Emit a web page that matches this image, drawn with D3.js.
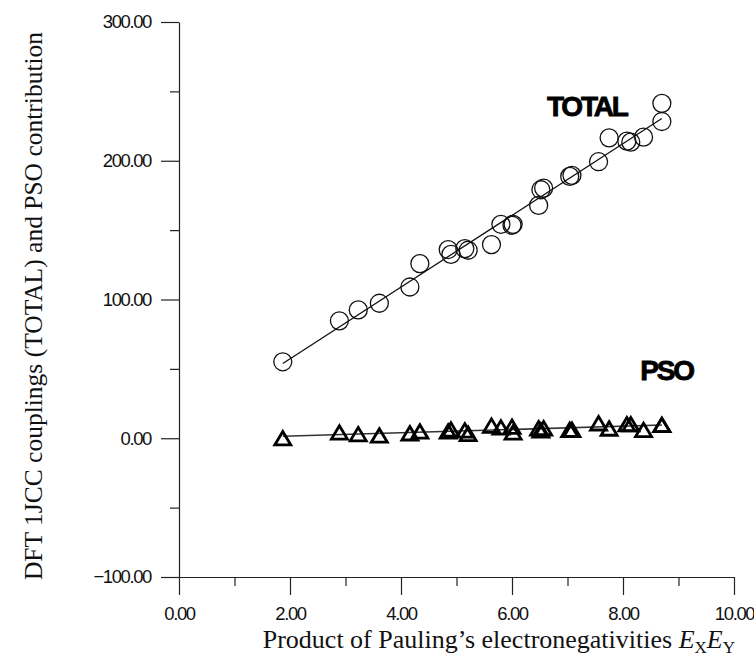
<!DOCTYPE html>
<html>
<head>
<meta charset="utf-8">
<script src="https://cdn.jsdelivr.net/npm/d3@7"></script>
<style>
  body { margin: 0; background: #fff; }
  .tick text { font-family: "Liberation Sans", Arial, sans-serif; font-size: 18.5px; letter-spacing: -1.4px; fill: #111; }
  .title { font-family: "Liberation Serif", "Times New Roman", serif; fill: #111; }
  .tag { font-family: "Liberation Sans", Arial, sans-serif; font-weight: bold; font-size: 28px; letter-spacing: -2.2px; fill: #000; stroke: #000; stroke-width: 0.8px; }
</style>
</head>
<body>
<script>
// product of electronegativities (shared by both series)
var exey = [1.87, 2.89, 3.23, 3.61, 4.16, 4.34, 4.85, 4.90, 5.15, 5.21, 5.63, 5.80, 6.00,
            6.02, 6.48, 6.52, 6.57, 7.04, 7.08, 7.56, 7.75, 8.07, 8.14, 8.37, 8.70, 8.70];
var total = [55.1, 84.6, 92.5, 97.3, 109.0, 125.9, 136.0, 132.5, 136.7, 135.5, 139.6, 154.2, 153.5,
             154.2, 167.8, 179.1, 180.3, 188.7, 189.5, 199.3, 216.5, 214.1, 213.4, 217.0, 241.4, 228.3];
var pso = [0.0, 4.2, 3.0, 2.0, 3.6, 4.9, 4.9, 6.3, 5.6, 3.2, 9.1, 7.8, 8.3,
           4.2, 7.2, 5.7, 7.2, 6.1, 6.1, 10.8, 7.0, 10.1, 10.1, 6.0, 9.6, 9.6];

var xTicks = [0, 2, 4, 6, 8, 10];
var xMinor = [1, 3, 5, 7, 9];
var yTicks = [-100, 0, 100, 200, 300];
var yMinor = [-50, 50, 150, 250];

// series tags, placed in data units
var tags = [
  { text: "TOTAL", x: 6.63, y: 232 },
  { text: "PSO", x: 8.31, y: 42 }
];

var width = 754, height = 668;

var x = d3.scaleLinear().domain([0, 10]).range([179, 734]);
var y = d3.scaleLinear().domain([-100, 300]).range([577, 22]);

var svg = d3.select("body").append("svg")
  .attr("width", width)
  .attr("height", height);

var fmt = d3.format(".2f");

// axes
var gx = svg.append("g").attr("transform", "translate(0," + y(-100) + ")");
gx.call(d3.axisBottom(x).tickValues(xTicks).tickSize(18).tickSizeOuter(0).tickPadding(12).tickFormat(fmt));
gx.append("g").call(d3.axisBottom(x).tickValues(xMinor).tickSize(9).tickFormat(""))
  .select(".domain").remove();

var gy = svg.append("g").attr("transform", "translate(" + x(0) + ",0)");
gy.call(d3.axisLeft(y).tickValues(yTicks).tickSize(18).tickSizeOuter(0).tickPadding(10).tickFormat(fmt));
gy.append("g").call(d3.axisLeft(y).tickValues(yMinor).tickSize(9).tickFormat(""))
  .select(".domain").remove();

svg.selectAll(".domain, .tick line").attr("stroke", "#222").attr("stroke-width", 1.2);

// least squares line through a series
function fit(xs, ys) {
  var mx = d3.mean(xs), my = d3.mean(ys);
  var sxy = d3.sum(xs, function (v, i) { return (v - mx) * (ys[i] - my); });
  var sxx = d3.sum(xs, function (v) { return (v - mx) * (v - mx); });
  var b = sxy / sxx, a = my - b * mx;
  var ext = d3.extent(xs);
  return ext.map(function (v) { return [v, a + b * v]; });
}

var line = d3.line()
  .x(function (d) { return x(d[0]); })
  .y(function (d) { return y(d[1]); });

svg.append("path").datum(fit(exey, total))
  .attr("d", line).attr("fill", "none").attr("stroke", "#111").attr("stroke-width", 1.3);
svg.append("path").datum(fit(exey, pso))
  .attr("d", line).attr("fill", "none").attr("stroke", "#333").attr("stroke-width", 1.6);

// TOTAL: open circles
svg.selectAll(".tot").data(exey).enter().append("circle")
  .attr("class", "tot")
  .attr("cx", function (d) { return x(d); })
  .attr("cy", function (d, i) { return y(total[i]); })
  .attr("r", 9)
  .attr("fill", "none")
  .attr("stroke", "#111")
  .attr("stroke-width", 1.3);

// PSO: open triangles, centred on their bounding box
var tri = {
  draw: function (ctx, size) {
    var w = Math.sqrt(size), h = w * 0.84;
    ctx.moveTo(0, -h / 2);
    ctx.lineTo(w / 2, h / 2);
    ctx.lineTo(-w / 2, h / 2);
    ctx.closePath();
  }
};
var sym = d3.symbol().type(tri).size(16 * 16);

svg.selectAll(".pso").data(exey).enter().append("path")
  .attr("class", "pso")
  .attr("d", sym)
  .attr("transform", function (d, i) { return "translate(" + x(d) + "," + y(pso[i]) + ")"; })
  .attr("fill", "none")
  .attr("stroke", "#000")
  .attr("stroke-width", 2.8);

// tags
svg.selectAll(".tag").data(tags).enter().append("text")
  .attr("class", "tag")
  .attr("x", function (d) { return x(d.x); })
  .attr("y", function (d) { return y(d.y); })
  .text(function (d) { return d.text; });

// axis titles
svg.append("text").attr("class", "title")
  .attr("transform", "translate(42,306) rotate(-90)")
  .attr("text-anchor", "middle")
  .style("font-size", "25.5px")
  .text("DFT 1JCC couplings (TOTAL) and PSO contribution");

var xt = svg.append("text").attr("class", "title")
  .attr("x", 735).attr("y", 648)
  .attr("text-anchor", "end")
  .style("font-size", "26px");
xt.append("tspan").text("Product of Pauling\u2019s electronegativities ");
xt.append("tspan").style("font-style", "italic").text("E");
xt.append("tspan").attr("dy", 5).style("font-size", "17px").text("X");
xt.append("tspan").attr("dy", -5).style("font-style", "italic").text("E");
xt.append("tspan").attr("dy", 5).style("font-size", "17px").text("Y");
</script>
</body>
</html>
